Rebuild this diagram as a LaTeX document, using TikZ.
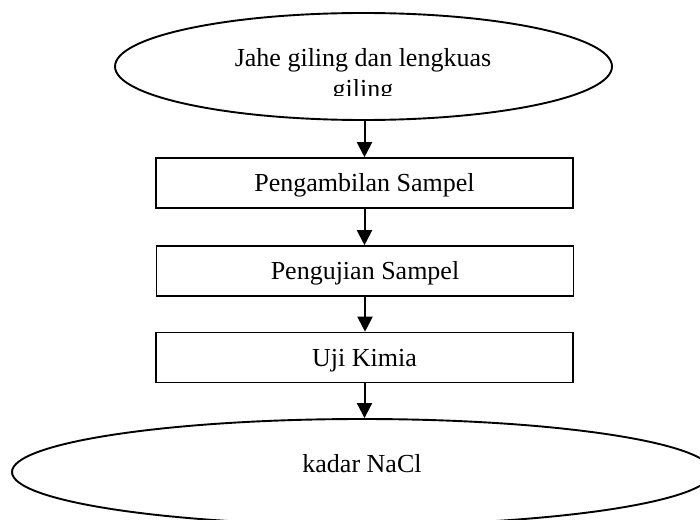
\documentclass[tikz,border=0pt]{standalone}
\usepackage{fontspec}
\setmainfont{Liberation Serif}
\usetikzlibrary{shapes.geometric,arrows.meta}
\begin{document}
\begin{tikzpicture}[x=1pt,y=1pt,
  ell/.style={draw, ellipse, line width=1.9pt, inner sep=0pt},
  stepbox/.style={draw, rectangle, line width=1.6pt, minimum width=417pt, minimum height=50pt,
    inner sep=0pt, font=\fontsize{26}{30}\selectfont, text height=17.5pt, text depth=0pt},
  arr/.style={line width=2pt, -{Triangle[length=15pt,width=15pt]}},
  lbl/.style={font=\fontsize{26}{30}\selectfont, inner sep=0pt, anchor=base}]
\useasboundingbox (0,0) rectangle (700,-519);
\node[ell, minimum width=497pt, minimum height=107pt] (src) at (363.5,-66.5) {};
\begin{scope}
  \clip (150,-30) rectangle (560,-95);
  \node[lbl] (t1) at (363,-66.5) {Jahe giling dan lengkuas};
  \node[lbl] (t2) at (363,-97.5) {giling};
\end{scope}
\node[stepbox] (b1) at (364.5,-183) {Pengambilan Sampel};
\node[stepbox] (b2) at (365,-271) {Pengujian Sampel};
\node[stepbox] (b3) at (364.5,-357.5) {Uji Kimia};
\node[ell, minimum width=700pt, minimum height=106pt] (res) at (362,-472) {};
\node[lbl] (t3) at (362,-472) {kadar NaCl};
\draw[arr] (b1.north |- src.south) -- (b1.north);
\draw[arr] (b1.south) -- (b1.south |- b2.north);
\draw[arr] (b2.south) -- (b2.south |- b3.north);
\draw[arr] (b3.south) -- (b3.south |- res.north);
\end{tikzpicture}
\end{document}
